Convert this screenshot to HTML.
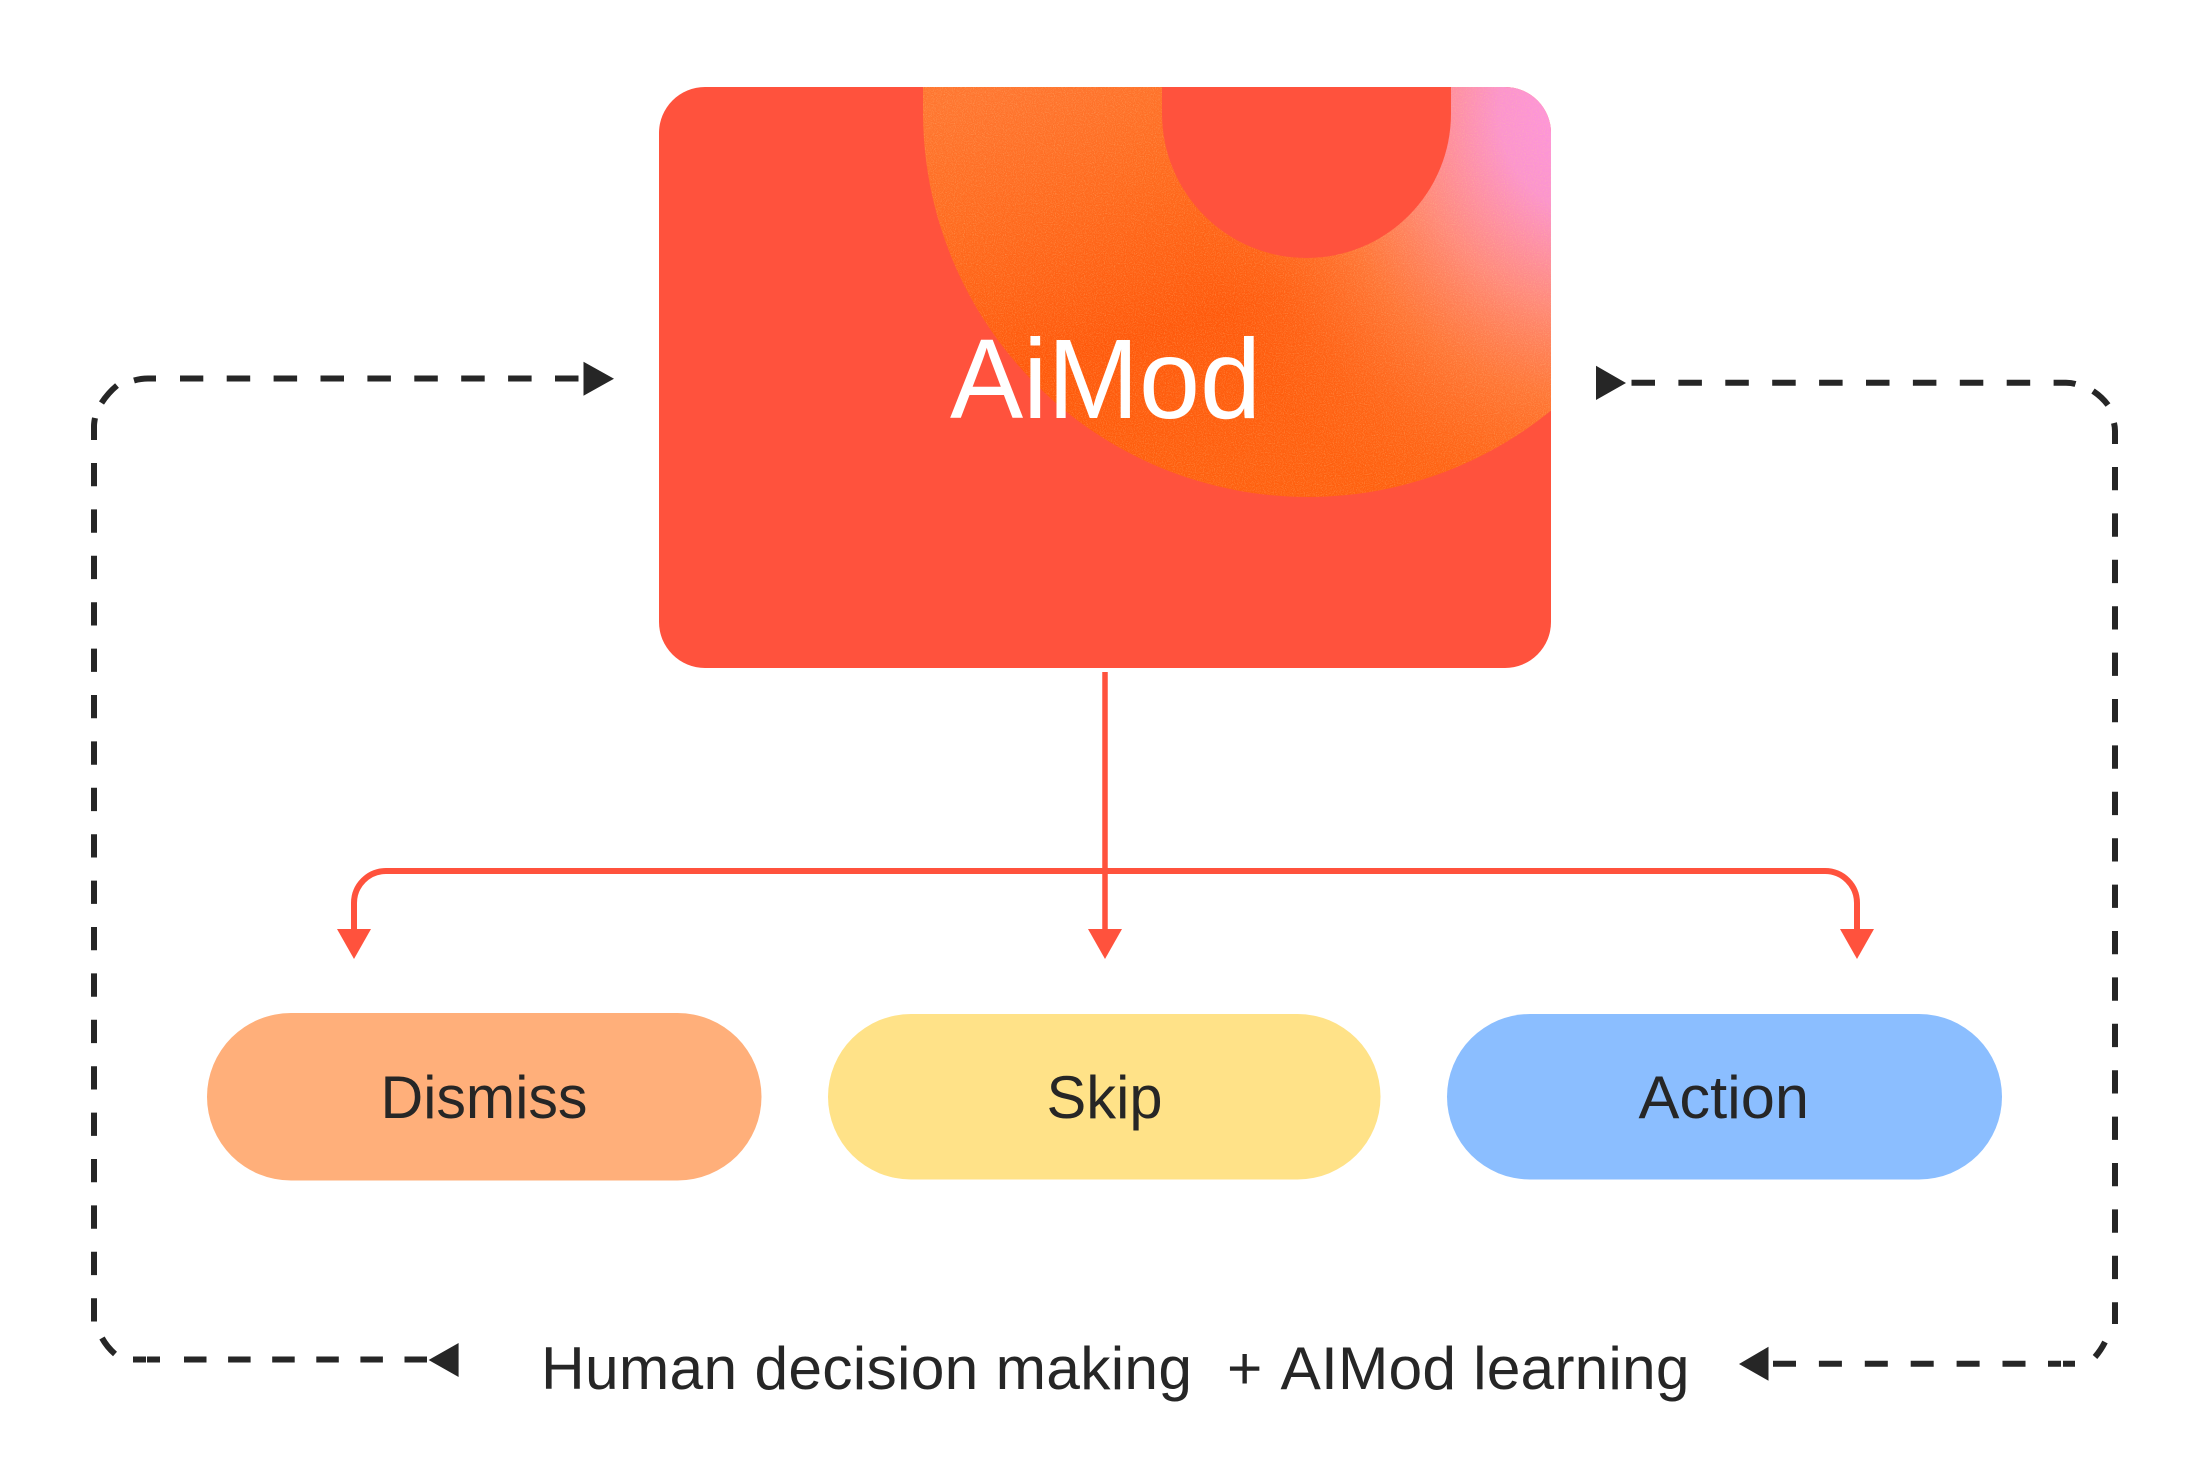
<!DOCTYPE html>
<html lang="en">
<head>
<meta charset="utf-8">
<title>AiMod diagram</title>
<style>
html,body{margin:0;padding:0;background:#fff;width:2209px;height:1482px;overflow:hidden}
svg{display:block}
text{font-family:"Liberation Sans",sans-serif}
</style>
</head>
<body>
<svg width="2209" height="1482" viewBox="0 0 2209 1482" xmlns="http://www.w3.org/2000/svg">
<defs>
  <clipPath id="card"><rect x="659" y="87" width="892" height="581" rx="46" ry="46"/></clipPath>
  <linearGradient id="base" gradientUnits="userSpaceOnUse" x1="1000" y1="87" x2="1120" y2="497">
    <stop offset="0" stop-color="#FF7630"/>
    <stop offset=".3" stop-color="#FF6A1E"/>
    <stop offset=".65" stop-color="#FF590B"/>
    <stop offset="1" stop-color="#FF600F"/>
  </linearGradient>
  <radialGradient id="pink" gradientUnits="userSpaceOnUse" cx="0" cy="0" r="1" gradientTransform="translate(1600 110) scale(420 440)">
    <stop offset="0" stop-color="#FF94E6" stop-opacity="1"/>
    <stop offset=".24" stop-color="#FC94CE" stop-opacity="1"/>
    <stop offset=".46" stop-color="#FF8C80" stop-opacity=".95"/>
    <stop offset=".66" stop-color="#FF7C40" stop-opacity=".8"/>
    <stop offset=".88" stop-color="#FF7028" stop-opacity=".25"/>
    <stop offset="1" stop-color="#FF7028" stop-opacity="0"/>
  </radialGradient>
  <filter id="grain" x="0" y="0" width="100%" height="100%">
    <feTurbulence type="fractalNoise" baseFrequency="0.9" numOctaves="2" seed="4"/>
    <feColorMatrix type="matrix" values="0 0 0 0 1  0 0 0 0 .62  0 0 0 0 .3  2.2 0 0 0 -1"/>
  </filter>
  <mask id="donut" maskUnits="userSpaceOnUse" x="659" y="87" width="892" height="581">
    <rect x="659" y="87" width="892" height="581" fill="#000"/>
    <circle cx="1308" cy="112" r="385" fill="#fff"/>
    <rect x="923" y="87" width="770" height="25" fill="#fff"/>
    <circle cx="1306.5" cy="113.5" r="144.5" fill="#000"/>
    <rect x="1162" y="87" width="289" height="27" fill="#000"/>
  </mask>
</defs>

<!-- Card -->
<rect x="659" y="87" width="892" height="581" rx="46" ry="46" fill="#FF523D"/>
<g clip-path="url(#card)">
  <g mask="url(#donut)">
    <rect x="659" y="87" width="892" height="581" fill="url(#base)"/>
    <rect x="659" y="87" width="892" height="581" fill="url(#pink)"/>
    <rect x="659" y="87" width="892" height="581" filter="url(#grain)" opacity=".4"/>
  </g>
</g>
<text x="950" y="418" font-size="113" fill="#fff" textLength="311" lengthAdjust="spacingAndGlyphs">AiMod</text>

<!-- Red connectors -->
<g fill="none" stroke="#FF523D" stroke-width="6">
  <path d="M1105 672V932" stroke-width="5.5"/>
  <path d="M354 932V903A32 32 0 0 1 386 871H1825A32 32 0 0 1 1857 903V932"/>
</g>
<g fill="#FF523D">
  <polygon points="337,929 371,929 354,959"/>
  <polygon points="1088,929 1122,929 1105,959"/>
  <polygon points="1840,929 1874,929 1857,959"/>
</g>

<!-- Pills -->
<rect x="207" y="1013" width="554.5" height="167.5" rx="84" ry="84" fill="#FFAF7A"/>
<rect x="828" y="1014" width="552.5" height="165.5" rx="83" ry="83" fill="#FFE288"/>
<rect x="1447" y="1014" width="555" height="165.5" rx="83" ry="83" fill="#8BBEFF"/>
<g font-size="60" fill="#262626">
  <text x="380.5" y="1118" textLength="207" lengthAdjust="spacingAndGlyphs">Dismiss</text>
  <text x="1046.5" y="1118" textLength="116" lengthAdjust="spacingAndGlyphs">Skip</text>
  <text x="1638.5" y="1118" textLength="170.5" lengthAdjust="spacingAndGlyphs">Action</text>
</g>

<!-- Bottom caption -->
<g font-size="60.5" fill="#262626">
  <text x="541" y="1389" textLength="651" lengthAdjust="spacing">Human decision making</text>
  <text x="1227" y="1389">+</text>
  <text x="1280.5" y="1389" textLength="409" lengthAdjust="spacing">AIMod learning</text>
</g>

<!-- Dashed feedback: left -->
<g fill="none" stroke="#262626" stroke-width="6">
  <path d="M578.5 378.5H180" stroke-dasharray="23.5 23.4"/>
  <path d="M156 378.5H148Q141 378.5 134 380.5"/>
  <path d="M117 385.5Q108 393 101.5 403"/>
  <path d="M94 440V426Q94 423 95 418"/>
  <path d="M94 463V1322" stroke-dasharray="23.3 23.1"/>
  <path d="M102 1338Q107 1347 115 1354"/>
  <path d="M133 1359.5Q137 1359.5 146 1359.5M147 1359.5H160"/>
  <path d="M427 1359.5H180" stroke-dasharray="22.5 21.6"/>

  <!-- Dashed feedback: right -->
  <path d="M1631.5 382.7H2054" stroke-dasharray="23.5 23.4"/>
  <path d="M2054 382.7H2066Q2071 382.7 2075.5 384"/>
  <path d="M2093 391Q2102 397 2108 405"/>
  <path d="M2115 444V431Q2115 427 2114 423"/>
  <path d="M2115 467V1324" stroke-dasharray="23.3 23.1"/>
  <path d="M2105 1342Q2101 1350 2095 1357"/>
  <path d="M2048 1363.7H2061M2063 1363.7H2075"/>
  <path d="M1773 1363.7H2026" stroke-dasharray="23 22.9"/>
</g>
<g fill="#262626">
  <polygon points="583.5,361.7 614,378.7 583.5,395.7"/>
  <polygon points="458.6,1343 428.6,1360 458.6,1377"/>
  <polygon points="1596,365.7 1626,383 1596,400"/>
  <polygon points="1768.5,1346.7 1739,1364 1768.5,1380.7"/>
</g>
</svg>
</body>
</html>
